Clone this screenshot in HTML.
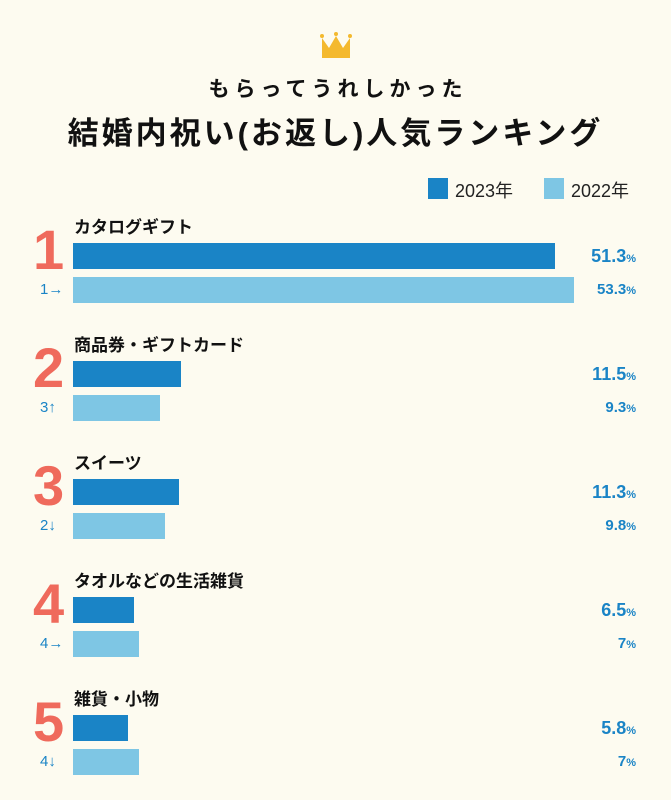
<!DOCTYPE html>
<html><head><meta charset="utf-8"><style>
body{margin:0;background:#fdfbf0;}
#c{position:relative;width:671px;height:800px;background:#fdfbf0;font-family:"Liberation Sans","Noto Sans CJK JP",sans-serif;overflow:hidden}
.a{position:absolute;white-space:nowrap}
.t1{left:0;width:671px;text-align:center;top:73px;font-size:21px;font-weight:bold;letter-spacing:5px;color:#111;padding-left:5px;box-sizing:border-box}
.t2{left:0;width:671px;text-align:center;top:108px;font-size:31px;font-weight:bold;letter-spacing:3px;color:#111}
.lab{left:74px;font-size:17px;font-weight:bold;color:#111}
.num{left:33px;font-size:56px;color:#ef6a5c;font-weight:bold;line-height:1}
.b1{left:73px;height:26px;background:#1a84c6}
.b2{left:73px;height:26px;background:#7ec6e4}
.v1{right:35px;font-size:18px;font-weight:bold;color:#1a84c6;line-height:26px}
.v2{right:35px;font-size:15px;font-weight:bold;color:#1a84c6;line-height:26px}
.v1 small,.v2 small{font-size:11px}
.r{left:40px;font-size:15px;color:#1a84c6;line-height:26px}
</style></head><body><div id="c">
<svg class="a" style="left:320px;top:32px" width="32" height="27" viewBox="0 0 32 27"><path d="M2 6 L9 16 L16 4 L23 16 L30 6 L30 26 L2 26 Z" fill="#f4b92e"/><circle cx="2" cy="4" r="2" fill="#f4b92e"/><circle cx="16" cy="2" r="2" fill="#f4b92e"/><circle cx="30" cy="4" r="2" fill="#f4b92e"/></svg>
<div class="a t1">もらってうれしかった</div>
<div class="a t2">結婚内祝い(お返し)人気ランキング</div>
<div class="a" style="left:428px;top:178px;width:20px;height:21px;background:#1a84c6"></div>
<div class="a" style="left:455px;top:177px;font-size:18px;color:#222">2023年</div>
<div class="a" style="left:544px;top:178px;width:20px;height:21px;background:#7ec6e4"></div>
<div class="a" style="left:571px;top:177px;font-size:18px;color:#222">2022年</div>

<div class="a lab" style="top:213px">カタログギフト</div>
<div class="a num" style="top:222px">1</div>
<div class="a b1" style="top:243px;width:482px"></div>
<div class="a b2" style="top:277px;width:501px"></div>
<div class="a v1" style="top:243px">51.3<small>%</small></div>
<div class="a v2" style="top:277px">53.3<small>%</small></div>
<div class="a r" style="top:277px">1→</div>

<div class="a lab" style="top:331px">商品券・ギフトカード</div>
<div class="a num" style="top:340px">2</div>
<div class="a b1" style="top:361px;width:108px"></div>
<div class="a b2" style="top:395px;width:87px"></div>
<div class="a v1" style="top:361px">11.5<small>%</small></div>
<div class="a v2" style="top:395px">9.3<small>%</small></div>
<div class="a r" style="top:395px">3↑</div>

<div class="a lab" style="top:449px">スイーツ</div>
<div class="a num" style="top:458px">3</div>
<div class="a b1" style="top:479px;width:106px"></div>
<div class="a b2" style="top:513px;width:92px"></div>
<div class="a v1" style="top:479px">11.3<small>%</small></div>
<div class="a v2" style="top:513px">9.8<small>%</small></div>
<div class="a r" style="top:513px">2↓</div>

<div class="a lab" style="top:567px">タオルなどの生活雑貨</div>
<div class="a num" style="top:576px">4</div>
<div class="a b1" style="top:597px;width:61px"></div>
<div class="a b2" style="top:631px;width:66px"></div>
<div class="a v1" style="top:597px">6.5<small>%</small></div>
<div class="a v2" style="top:631px">7<small>%</small></div>
<div class="a r" style="top:631px">4→</div>

<div class="a lab" style="top:685px">雑貨・小物</div>
<div class="a num" style="top:694px">5</div>
<div class="a b1" style="top:715px;width:55px"></div>
<div class="a b2" style="top:749px;width:66px"></div>
<div class="a v1" style="top:715px">5.8<small>%</small></div>
<div class="a v2" style="top:749px">7<small>%</small></div>
<div class="a r" style="top:749px">4↓</div>
</div></body></html>
